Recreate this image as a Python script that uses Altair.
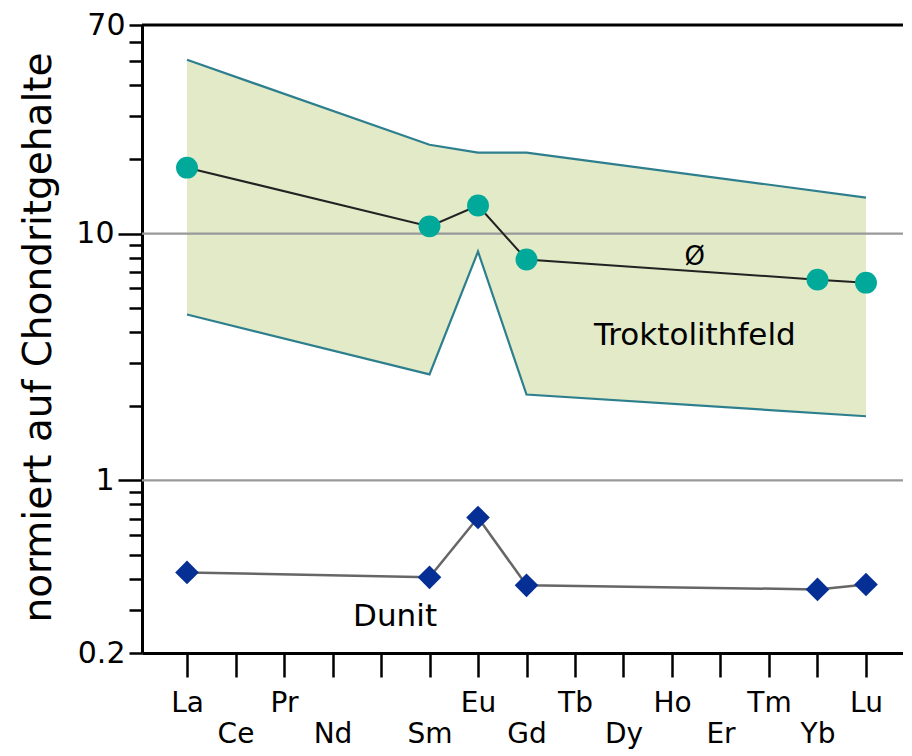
import altair as alt
import pandas as pd

# ---- data ----
elements = ["La", "Ce", "Pr", "Nd", "Pm", "Sm", "Eu", "Gd", "Tb", "Dy", "Ho", "Er", "Tm", "Yb", "Lu"]
tick_labels = ["La", "Ce", "Pr", "Nd", "", "Sm", "Eu", "Gd", "Tb", "Dy", "Ho", "Er", "Tm", "Yb", "Lu"]

band_elements = ["La", "Sm", "Eu", "Gd", "Lu"]
band_upper = [50.6, 22.9, 21.3, 21.3, 14.0]
band_lower = [4.7, 2.69, 8.46, 2.23, 1.82]

mean_elements = ["La", "Sm", "Eu", "Gd", "Yb", "Lu"]
mean_values = [18.5, 10.7, 13.0, 7.85, 6.51, 6.33]

dunit_elements = ["La", "Sm", "Eu", "Gd", "Yb", "Lu"]
dunit_values = [0.424, 0.405, 0.708, 0.376, 0.362, 0.379]

y_ticks = [0.2, 0.3, 0.4, 0.5, 0.6, 0.7, 0.8, 0.9,
           1, 2, 3, 4, 5, 6, 7, 8, 9,
           10, 20, 30, 40, 50, 60, 70]
y_labelled = [0.2, 1, 10, 70]
grid_values = [1, 10]
frame_top = [70]

ann_text = ["Ø", "Troktolithfeld", "Dunit"]
ann_pos = [10.47, 10.47, 4.29]
ann_val = [8.07, 3.83, 0.279]
ann_size = [26, 31, 31]

# ---- tables ----
idx = {e: i for i, e in enumerate(elements)}
band_df = pd.DataFrame({"x": [idx[e] for e in band_elements], "hi": band_upper, "lo": band_lower})
mean_df = pd.DataFrame({"x": [idx[e] for e in mean_elements], "v": mean_values})
dunit_df = pd.DataFrame({"x": [idx[e] for e in dunit_elements], "v": dunit_values})
grid_df = pd.DataFrame({"v": grid_values})
top_df = pd.DataFrame({"v": frame_top})
ann_df = pd.DataFrame({"t": ann_text, "x": ann_pos, "v": ann_val, "s": ann_size})

FONT = "DejaVu Sans"

label_array = "[" + ",".join("'" + l + "'" for l in tick_labels) + "]"
ylab_test = " || ".join("datum.value == %s" % v for v in y_labelled)

xscale = alt.Scale(domain=[-0.928, 14.763], nice=False, zero=False)
yscale = alt.Scale(type="log", domain=[0.2, 70], nice=False)

xaxis = alt.Axis(
    values=list(range(len(elements))),
    labelExpr=label_array + "[datum.value]",
    title=None,
    grid=False,
    tickSize=24,
    tickWidth=2.5,
    tickColor="black",
    domainColor="black",
    domainWidth=3,
    labelFont=FONT,
    labelFontSize=28,
    labelColor="black",
    labelBaseline="top",
    labelPadding={"condition": {"test": "datum.value % 2 == 1", "value": 43}, "value": 12},
    labelFlush=False,
    labelOverlap=False,
)

yaxis = alt.Axis(
    values=y_ticks,
    labelExpr="(" + ylab_test + ") ? format(datum.value, '~g') : ''",
    title="normiert auf Chondritgehalte",
    titleFont=FONT,
    titleFontSize=39,
    titleFontWeight="normal",
    titleColor="black",
    titleAngle=270,
    titleAlign="center",
    titleBaseline="alphabetic",
    titleX=-92,
    titleY=312,
    grid=False,
    tickSize={"condition": {"test": "datum.value == 1 || datum.value == 10", "value": 24}, "value": 13},
    tickWidth=2.5,
    tickColor="black",
    domainColor="black",
    domainWidth=3,
    labelFont=FONT,
    labelFontSize=30,
    labelColor="black",
    labelBaseline="middle",
    labelPadding=4,
    labelFlush=False,
    labelOverlap=False,
)

band = alt.Chart(band_df).mark_area(color="#e2eac8", opacity=1).encode(
    x=alt.X("x:Q", scale=xscale, axis=xaxis),
    y=alt.Y("hi:Q", scale=yscale, axis=yaxis),
    y2="lo:Q",
)
band_hi = alt.Chart(band_df).mark_line(color="#2e7f8e", strokeWidth=2.2).encode(
    x="x:Q", y="hi:Q"
)
band_lo = alt.Chart(band_df).mark_line(color="#2e7f8e", strokeWidth=2.2).encode(
    x="x:Q", y="lo:Q"
)
grid = alt.Chart(grid_df).mark_rule(color="#999999", strokeWidth=2.2).encode(y="v:Q")
top = alt.Chart(top_df).mark_rule(color="black", strokeWidth=3).encode(y="v:Q")

mean_line = alt.Chart(mean_df).mark_line(color="#222222", strokeWidth=2).encode(x="x:Q", y="v:Q")
mean_pts = alt.Chart(mean_df).mark_point(
    shape="circle", filled=True, color="#00a99a", size=480, opacity=1
).encode(x="x:Q", y="v:Q")

dunit_line = alt.Chart(dunit_df).mark_line(color="#666666", strokeWidth=2.5).encode(x="x:Q", y="v:Q")
dunit_pts = alt.Chart(dunit_df).mark_point(
    shape="diamond", filled=True, color="#062f96", size=560, opacity=1
).encode(x="x:Q", y="v:Q")

ann = alt.Chart(ann_df).mark_text(font=FONT, color="black", baseline="middle", align="center").encode(
    x="x:Q", y="v:Q", text="t:N", size=alt.Size("s:Q", scale=None, legend=None)
)

chart = alt.layer(
    band, grid, band_hi, band_lo, top, mean_line, mean_pts, dunit_line, dunit_pts, ann
).properties(
    width=761,
    height=628,
    autosize=alt.AutoSizeParams(type="none"),
    padding={"left": 134, "top": 17, "right": 0, "bottom": 102},
).configure_view(stroke=None)

chart.save("out.html", embed_options={"renderer": "svg", "actions": False})
